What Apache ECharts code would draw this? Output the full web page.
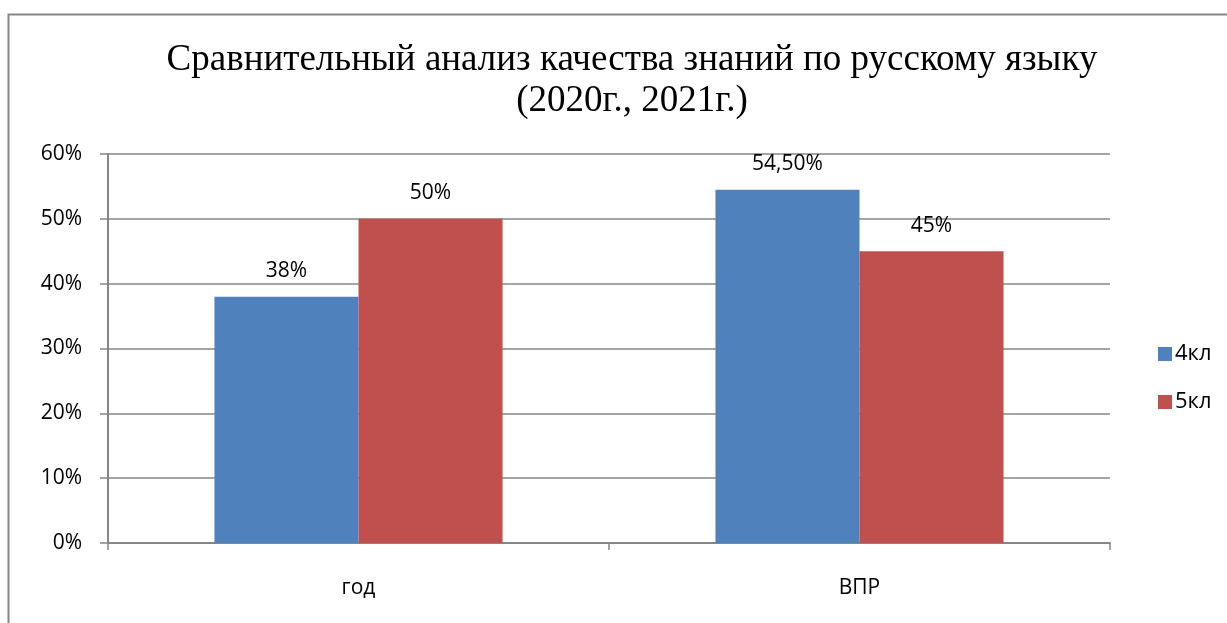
<!DOCTYPE html>
<html>
<head>
<meta charset="utf-8">
<script src="https://cdn.jsdelivr.net/npm/echarts@6/dist/echarts.min.js"></script>
<style>
  html, body { margin: 0; padding: 0; background: #fff; }
  #chart { width: 1227px; height: 623px; }
</style>
</head>
<body>
<div id="chart"></div>
<script>
// данные
const categories = ['год', 'ВПР']
const seriesNames = ['4кл', '5кл']
const values4 = [38, 54.5]
const values5 = [50, 45]
const labels4 = ['38%', '54,50%']
const labels5 = ['50%', '45%']
const yTicks = [0, 10, 20, 30, 40, 50, 60]

const axisGray = '#868686'
const textFont = '"Open Sans", "Liberation Sans", sans-serif'

let chart = echarts.init(document.getElementById('chart'))
let option = {
  animation: false,
  title: {
    text: 'Сравнительный анализ качества знаний по русскому языку\n(2020г., 2021г.)',
    left: 627,
    top: 35,
    textAlign: 'center',
    textStyle: {
      fontFamily: '"Liberation Serif", "DejaVu Serif", serif',
      fontSize: 37,
      fontWeight: 'normal',
      color: '#000',
      lineHeight: 41
    }
  },
  graphic: [
    {
      type: 'rect',
      shape: { x: 8.5, y: 14.5, width: 1240, height: 640 },
      style: { fill: 'none', stroke: axisGray, lineWidth: 2 },
      silent: true
    }
  ],
  legend: {
    data: seriesNames,
    orient: 'vertical',
    left: 1153,
    top: 338,
    itemWidth: 14,
    itemHeight: 14,
    itemGap: 26,
    icon: 'rect',
    textStyle: { fontFamily: textFont, fontSize: 22, color: '#000', padding: [0, 0, 0, -2] }
  },
  grid: {
    left: 108,
    right: 117,
    top: 154,
    bottom: 80,
    containLabel: false
  },
  xAxis: {
    type: 'category',
    data: categories,
    axisLine: { lineStyle: { color: axisGray, width: 2 } },
    axisTick: { show: true, length: 7, lineStyle: { color: axisGray, width: 1.5 } },
    axisLabel: { fontFamily: textFont, fontSize: 21, color: '#000', margin: 35 }
  },
  yAxis: {
    type: 'value',
    min: 0,
    max: 60,
    interval: 10,
    axisLine: { show: true, lineStyle: { color: axisGray, width: 2 } },
    axisTick: { show: true, length: 8, lineStyle: { color: axisGray, width: 1.5 } },
    splitLine: { show: true, lineStyle: { color: axisGray, width: 1.5 } },
    axisLabel: {
      fontFamily: textFont,
      fontSize: 21,
      color: '#000',
      margin: 26,
      formatter: function (v) { return yTicks.indexOf(v) >= 0 ? v + '%' : '' }
    }
  },
  series: [
    {
      name: seriesNames[0],
      type: 'bar',
      data: values4,
      barGap: '0%',
      barCategoryGap: '42.5%',
      itemStyle: { color: '#4F81BD' },
      label: {
        show: true,
        position: 'top',
        distance: 15,
        fontFamily: textFont,
        fontSize: 21,
        color: '#000',
        formatter: function (p) { return labels4[p.dataIndex] }
      }
    },
    {
      name: seriesNames[1],
      type: 'bar',
      data: values5,
      itemStyle: { color: '#C0504D' },
      label: {
        show: true,
        position: 'top',
        distance: 15,
        fontFamily: textFont,
        fontSize: 21,
        color: '#000',
        formatter: function (p) { return labels5[p.dataIndex] }
      }
    }
  ]
}
chart.setOption(option)
</script>
</body>
</html>
